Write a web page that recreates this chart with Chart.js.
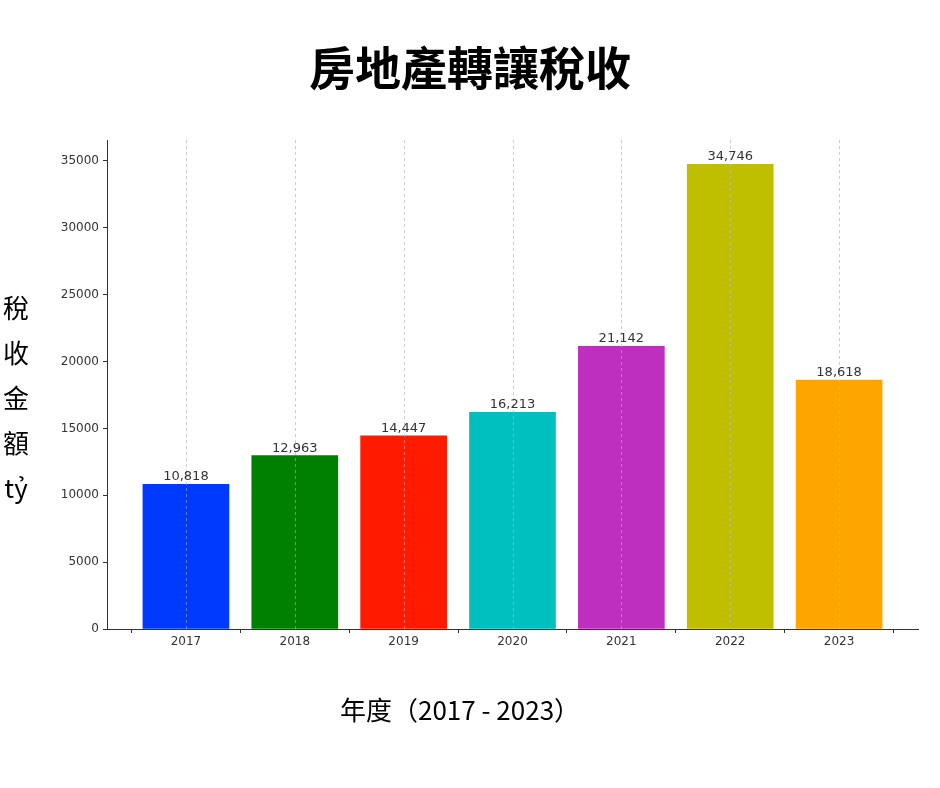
<!DOCTYPE html>
<html><head><meta charset="utf-8">
<script src="https://cdn.jsdelivr.net/npm/chart.js@4"></script>
<style>html,body{margin:0;background:#fff}#wrap{width:940px;height:788px}</style>
</head><body><div id="wrap"><canvas id="c"></canvas></div>
<script>
const years = ['2017','2018','2019','2020','2021','2022','2023'];
const revenue = [10818, 12963, 14447, 16213, 21142, 34746, 18618];
const barColors = ['#0039ff','#008000','#ff1a00','#00bfbf','#bf2fbf','#bfbf00','#ffa500'];
const yTicks = [0,5000,10000,15000,20000,25000,30000,35000];
const titleText = '房地產轉讓稅收';
const yLabelChars = ['稅','收','金','額','tỷ'];
const xTitle = '年度（2017 - 2023）';

const cjk = '"Noto Sans CJK TC","Noto Sans CJK SC",sans-serif';

const textPlugin = {
    id: 'texts',
    beforeDatasetsDraw(chart) {
        // dashed vertical grid at category centres
        const ctx = chart.ctx, x = chart.scales.x, a = chart.chartArea;
        ctx.save();
        ctx.strokeStyle = '#c8c8c8';
        ctx.lineWidth = 0.8;
        ctx.setLineDash([3, 3]);
        years.forEach((_, i) => {
            const px = Math.round(x.getPixelForValue(i)) + 0.5;
            ctx.beginPath(); ctx.moveTo(px, a.top); ctx.lineTo(px, a.bottom); ctx.stroke();
        });
        ctx.restore();
    },
    afterDatasetsDraw(chart) {
        const ctx = chart.ctx, x = chart.scales.x, a = chart.chartArea;
        ctx.save();
        ctx.strokeStyle = 'rgba(200,200,200,0.6)';
        ctx.lineWidth = 0.8;
        ctx.setLineDash([3, 3]);
        years.forEach((_, i) => {
            const px = Math.round(x.getPixelForValue(i)) + 0.5;
            ctx.beginPath(); ctx.moveTo(px, a.top); ctx.lineTo(px, a.bottom); ctx.stroke();
        });
        ctx.restore();
    },
    afterDraw(chart) {
        const ctx = chart.ctx;
        ctx.save();
        ctx.fillStyle = '#000';
        ctx.textAlign = 'center';
        ctx.textBaseline = 'middle';
        ctx.font = 'bold 46px ' + cjk;
        ctx.fillText(titleText, 470, 68);
        ctx.font = '26px ' + cjk;
        ctx.fillText(xTitle, 460, 710);
        yLabelChars.forEach((ch, i) => ctx.fillText(ch, 16, 308 + i * 45));
        const meta = chart.getDatasetMeta(0);
        ctx.font = '13px "DejaVu Sans"';
        ctx.fillStyle = '#333';
        ctx.textBaseline = 'bottom';
        meta.data.forEach((bar, i) => {
            ctx.fillText(revenue[i].toLocaleString('en-US'), bar.x, bar.y - 1);
        });
        ctx.restore();
    }
};

new Chart(document.getElementById('c'), {
    type: 'bar',
    data: {
        datasets: [{
            data: revenue.map((v, i) => ({ x: i, y: v })),
            backgroundColor: barColors,
            barThickness: 86
        }]
    },
    options: {
        responsive: true,
        maintainAspectRatio: false,
        animation: false,
        layout: { padding: { top: 140, right: 22, left: 0, bottom: 0 } },
        plugins: { legend: { display: false }, tooltip: { enabled: false } },
        scales: {
            x: {
                type: 'linear',
                min: -0.725,
                max: 6.725,
                offset: false,
                afterFit: s => { s.height = 159; },
                afterBuildTicks: s => { s.ticks = years.map((_, i) => ({ value: i })); },
                grid: { drawOnChartArea: false, tickLength: 4, tickColor: '#333' },
                border: { color: '#333' },
                ticks: { color: '#333', font: { family: 'DejaVu Sans', size: 12 }, padding: 2,
                    callback: v => years[v] }
            },
            y: {
                min: 0,
                max: 36570,
                afterFit: s => { s.width = 107; },
                afterBuildTicks: s => { s.ticks = yTicks.map(v => ({ value: v })); },
                grid: { drawOnChartArea: false, tickLength: 4, tickColor: '#333' },
                border: { color: '#333' },
                ticks: { color: '#333', font: { family: 'DejaVu Sans', size: 12 }, padding: 4,
                    callback: v => String(v) }
            }
        }
    },
    plugins: [textPlugin]
});
</script>
</body></html>
